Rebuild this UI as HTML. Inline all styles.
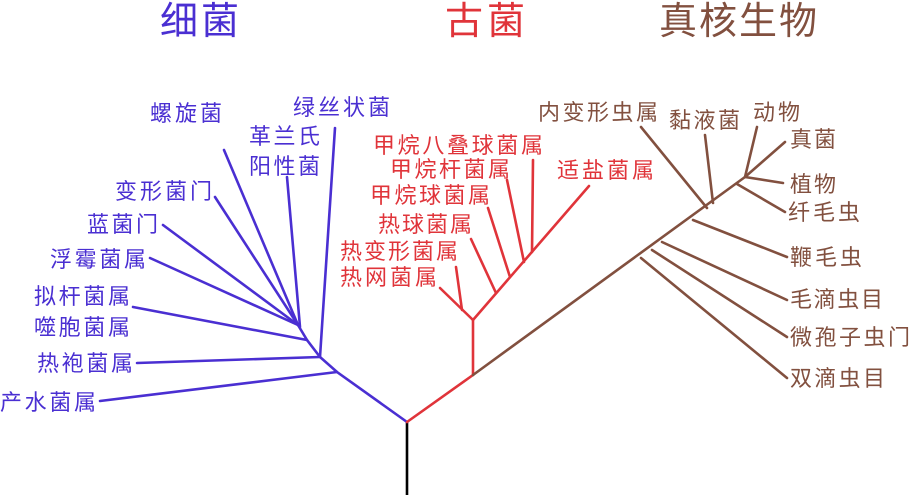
<!DOCTYPE html>
<html><head><meta charset="utf-8"><style>
html,body{margin:0;padding:0;background:#fff;width:910px;height:495px;overflow:hidden}
svg{display:block}
text{font-family:"Liberation Sans","Noto Sans CJK SC",sans-serif}
.b{fill:#4a2fd2;font-size:22px}
.r{fill:#e0343a;font-size:22px}
.n{fill:#82503f;font-size:22px}
</style></head><body>
<svg width="910" height="495" viewBox="0 0 910 495">
<g stroke-width="2.6" fill="none" stroke-linecap="round">
<line x1="407" y1="422" x2="407" y2="495" stroke="#000"/>
<g stroke="#4a2fd2">
<polyline points="407,422 337,372 320,357 307,340 298,325"/>
<line x1="337" y1="372" x2="100" y2="401"/>
<line x1="320" y1="357" x2="137" y2="363"/>
<line x1="320" y1="357" x2="335" y2="128"/>
<line x1="307" y1="340" x2="133" y2="307"/>
<line x1="300" y1="327" x2="287" y2="177"/>
<line x1="298" y1="325" x2="224" y2="150"/>
<line x1="298" y1="325" x2="215" y2="197"/>
<line x1="298" y1="325" x2="163" y2="225"/>
<line x1="298" y1="325" x2="150" y2="258"/>
</g>
<g stroke="#e0343a">
<line x1="407" y1="422" x2="473" y2="375"/>
<line x1="473" y1="375" x2="473" y2="320"/>
<line x1="473" y1="320" x2="589" y2="186"/>
<line x1="473" y1="320" x2="440" y2="288"/>
<line x1="462" y1="310" x2="456" y2="267"/>
<line x1="496" y1="293" x2="471" y2="239"/>
<line x1="510" y1="277" x2="488" y2="208"/>
<line x1="524" y1="262" x2="507" y2="180"/>
<line x1="532" y1="252" x2="533" y2="160"/>
</g>
<g stroke="#82503f">
<line x1="473" y1="375" x2="745" y2="177"/>
<line x1="641" y1="258" x2="787" y2="378"/>
<line x1="652" y1="250" x2="787" y2="337"/>
<line x1="662" y1="242" x2="787" y2="300"/>
<line x1="693" y1="220" x2="787" y2="257"/>
<line x1="707" y1="208" x2="641" y2="127"/>
<line x1="713" y1="203" x2="705" y2="135"/>
<line x1="737" y1="184" x2="785" y2="212"/>
<line x1="745" y1="177" x2="783" y2="183"/>
<line x1="745" y1="177" x2="757" y2="127"/>
<line x1="745" y1="177" x2="785" y2="142"/>
</g>
</g>
<text x="160" y="34" style="fill:#4a2fd2;font-size:38px" textLength="79">细菌</text>
<text x="445" y="34" style="fill:#e0343a;font-size:38px" textLength="80">古菌</text>
<text x="659" y="34" style="fill:#82503f;font-size:38px" textLength="158">真核生物</text>

<text class="b" x="150" y="121" textLength="72">螺旋菌</text>
<text class="b" x="293" y="115" textLength="97">绿丝状菌</text>
<text class="b" x="249" y="144" textLength="71">革兰氏</text>
<text class="b" x="249" y="174" textLength="71">阳性菌</text>
<text class="b" x="115" y="199" textLength="97">变形菌门</text>
<text class="b" x="87" y="232" textLength="71">蓝菌门</text>
<text class="b" x="50" y="267" textLength="96">浮霉菌属</text>
<text class="b" x="34" y="304" textLength="96">拟杆菌属</text>
<text class="b" x="34" y="335" textLength="96">噬胞菌属</text>
<text class="b" x="37" y="371" textLength="96">热袍菌属</text>
<text class="b" x="0" y="410" textLength="96">产水菌属</text>

<text class="r" x="373" y="153" textLength="170">甲烷八叠球菌属</text>
<text class="r" x="390" y="177" textLength="120">甲烷杆菌属</text>
<text class="r" x="370" y="203" textLength="120">甲烷球菌属</text>
<text class="r" x="378" y="232" textLength="94">热球菌属</text>
<text class="r" x="340" y="259" textLength="118">热变形菌属</text>
<text class="r" x="340" y="285" textLength="97">热网菌属</text>
<text class="r" x="557" y="178" textLength="97">适盐菌属</text>

<text class="n" x="538" y="120" textLength="120">内变形虫属</text>
<text class="n" x="669" y="128" textLength="71">黏液菌</text>
<text class="n" x="753" y="120" textLength="47">动物</text>
<text class="n" x="790" y="147" textLength="46">真菌</text>
<text class="n" x="790" y="192" textLength="46">植物</text>
<text class="n" x="788" y="220" textLength="72">纤毛虫</text>
<text class="n" x="790" y="265" textLength="72">鞭毛虫</text>
<text class="n" x="790" y="307" textLength="93">毛滴虫目</text>
<text class="n" x="790" y="345" textLength="120">微孢子虫门</text>
<text class="n" x="790" y="386" textLength="95">双滴虫目</text>
</svg>
</body></html>
